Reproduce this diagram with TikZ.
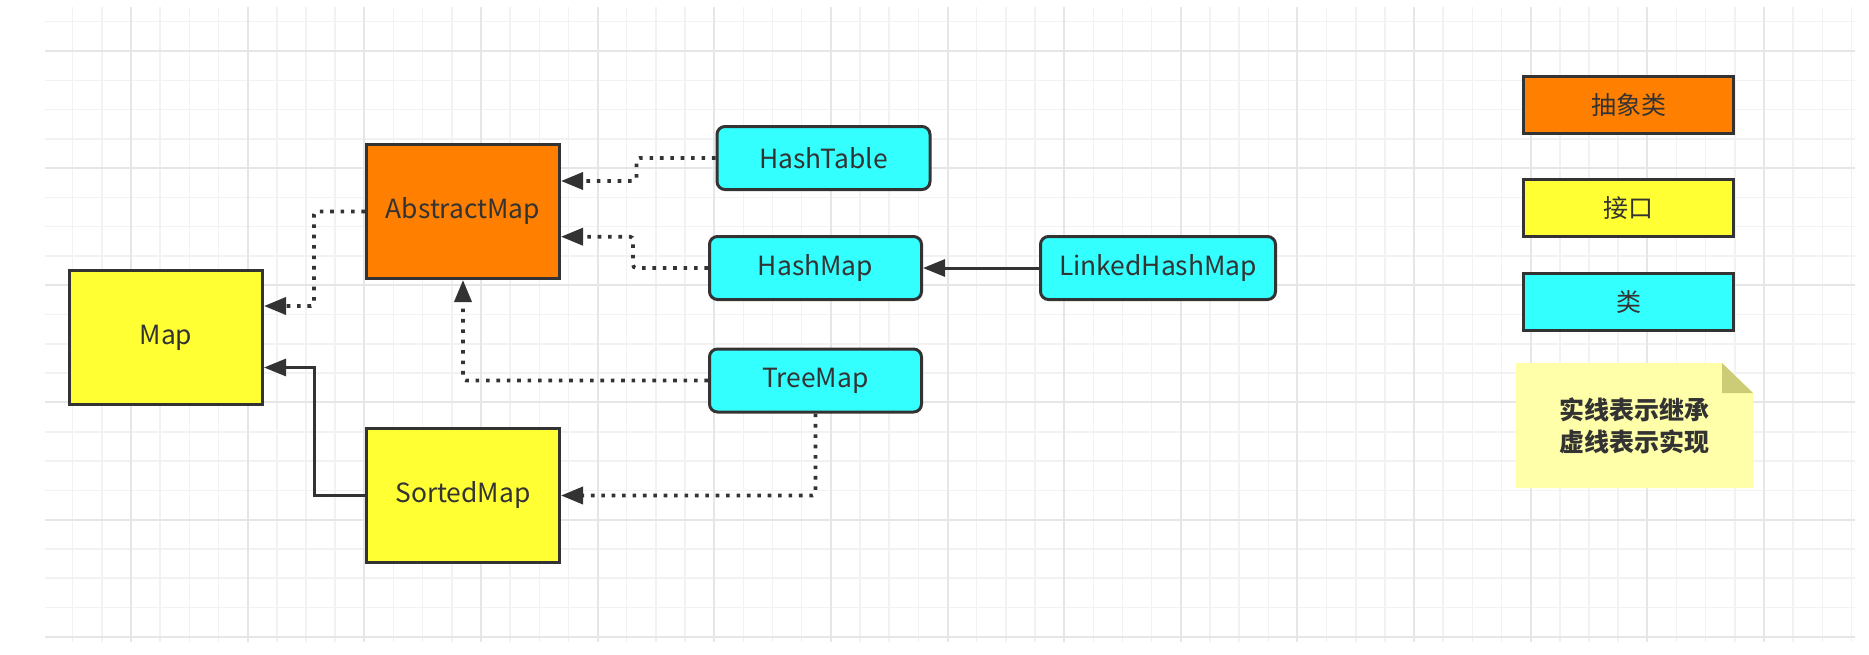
\documentclass[tikz,border=0pt]{standalone}
\usepackage{fontspec}
\setmainfont{Noto Sans CJK SC}
\usetikzlibrary{arrows.meta,positioning,backgrounds}

\definecolor{linecol}{HTML}{333333}
\definecolor{absfill}{HTML}{FF8000}
\definecolor{ifacefill}{HTML}{FFFF33}
\definecolor{classfill}{HTML}{33FFFF}
\definecolor{notefill}{HTML}{FFFFAA}
\definecolor{foldfill}{HTML}{CCCC77}
\definecolor{gridminor}{HTML}{F2F2F2}
\definecolor{gridmajor}{HTML}{E6E6E6}

\tikzset{
  box/.style={draw=linecol, line width=1.5pt, text=linecol, inner sep=0pt,
    font=\fontsize{13.2}{16}\selectfont},
  bigbox/.style={box, minimum width=96.5pt, minimum height=67pt},
  abstract/.style={bigbox, fill=absfill},
  iface/.style={bigbox, fill=ifacefill},
  cls/.style={box, fill=classfill, rounded corners=4pt, minimum height=31.5pt},
  keybox/.style={box, minimum width=105pt, minimum height=28.5pt,
    font=\fontsize{12.5}{15}\selectfont},
  impl/.style={draw=linecol, line width=1.8pt, dash pattern=on 1.8pt off 3.4pt,
    rounded corners=1.5pt, -{Triangle[length=11pt,width=8.5pt]}},
  inherit/.style={draw=linecol, line width=1.5pt, -{Triangle[length=11pt,width=8.5pt]}},
}

\begin{document}
\begin{tikzpicture}[x=0.5pt,y=-0.5pt]
  % paper and grid
  \begin{scope}[on background layer]
    \fill[white] (0,0) rectangle (1869,654);
    \foreach \i in {0,...,61}
      \draw[gridminor, line width=0.75pt] ({72.7+29.16*\i},7) -- ({72.7+29.16*\i},642);
    \foreach \j in {0,...,21}
      \draw[gridminor, line width=0.75pt] (45,{21.7+29.29*\j}) -- (1855,{21.7+29.29*\j});
    \foreach \i in {2,6,...,58}
      \draw[gridmajor, line width=1pt] ({72.7+29.16*\i},7) -- ({72.7+29.16*\i},642);
    \foreach \j in {1,5,...,21}
      \draw[gridmajor, line width=1pt] (45,{21.7+29.29*\j}) -- (1855,{21.7+29.29*\j});
  \end{scope}
  \useasboundingbox (0,0) rectangle (1869,654);

  % interfaces and abstract class
  \node[iface] (Map) at (166,337.5) {Map};
  \node[abstract] (AbstractMap) at (463,211.5) {AbstractMap};
  \node[iface, below=73.5pt of AbstractMap] (SortedMap) {SortedMap};

  % classes
  \node[cls, minimum width=106.5pt] (HashTable) at (823.5,158) {HashTable};
  \node[cls, minimum width=106pt] (HashMap) at (815.5,268) {HashMap};
  \node[cls, minimum width=117.5pt, right=58pt of HashMap] (LinkedHashMap) {LinkedHashMap};
  \node[cls, minimum width=106pt] (TreeMap) at (815.5,380.5) {TreeMap};

  % legend
  \node[keybox, fill=absfill] (KeyAbstract) at (1628.5,105) {抽象类};
  \node[keybox, fill=ifacefill, below=21.5pt of KeyAbstract] (KeyIface) {接口};
  \node[keybox, fill=classfill, below=17pt of KeyIface] (KeyClass) {类};
  \node[text=linecol, font=\bfseries\fontsize{12.5}{16}\selectfont, align=center,
    minimum width=118.5pt, minimum height=62.5pt, inner sep=0pt, outer sep=0pt]
    (Note) at (1634.5,425.5) {实线表示继承\\虚线表示实现};
  \begin{scope}[on background layer]
    \fill[notefill] (Note.south west) -- (Note.north west)
      -- ([xshift=-15.5pt]Note.north east) -- ([yshift=-15pt]Note.north east)
      -- (Note.south east) -- cycle;
    \fill[foldfill] ([xshift=-15.5pt]Note.north east)
      -- ([xshift=-15.5pt,yshift=-15pt]Note.north east)
      -- ([yshift=-15pt]Note.north east) -- cycle;
  \end{scope}

  % dotted: implements, solid: extends
  \draw[impl] (HashTable.west) -- ++(-79,0) |- ([yshift=15.25pt]AbstractMap.east);
  \draw[impl] (HashMap.west) -- ++(-75,0) |- ([yshift=-12.6pt]AbstractMap.east);
  \draw[impl] (TreeMap.west) -| (AbstractMap.south);
  \draw[impl] (TreeMap.south) |- (SortedMap.east);
  \draw[impl] (AbstractMap.west) -- ++(-51,0) |- ([yshift=15.75pt]Map.east);
  \draw[inherit] (SortedMap.west) -- ++(-51,0) |- ([yshift=-15pt]Map.east);
  \draw[inherit] (LinkedHashMap) -- (HashMap);
\end{tikzpicture}
\end{document}
